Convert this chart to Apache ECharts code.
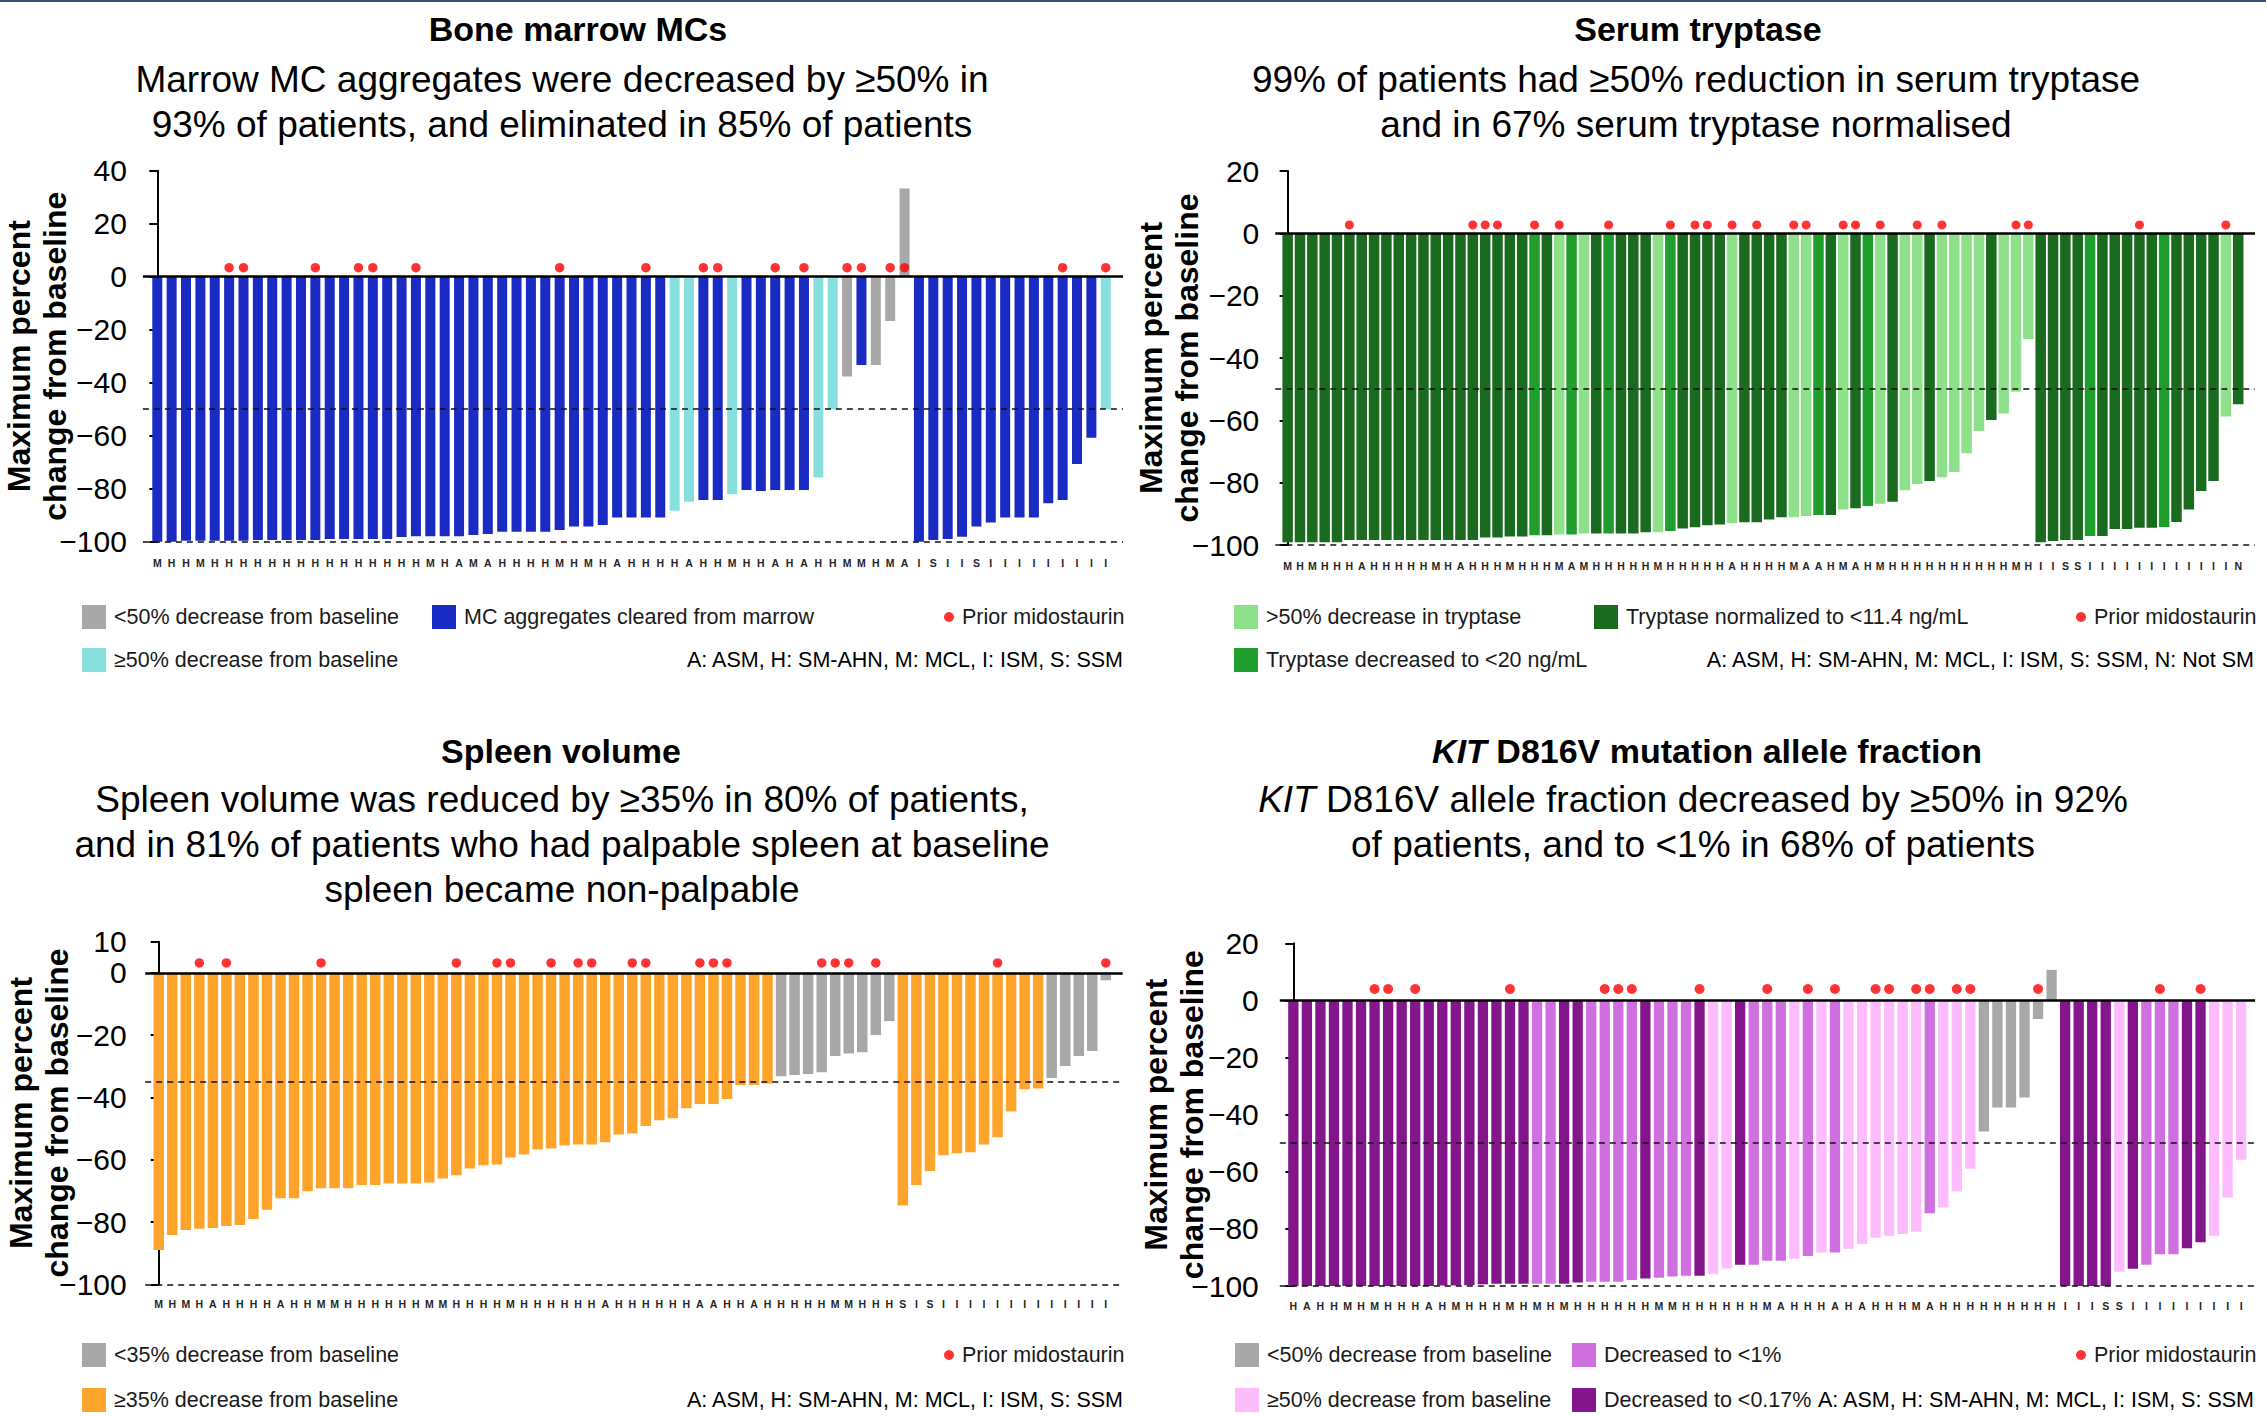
<!DOCTYPE html>
<html>
<head>
<meta charset="utf-8">
<script src="https://cdn.jsdelivr.net/npm/echarts@6/dist/echarts.min.js"></script>
<style>
  html, body { margin: 0; padding: 0; background: #fff; }
  #main { width: 2266px; height: 1417px; }
</style>
</head>
<body>
<div id="main"></div>
<script>
// Bone marrow MCs
var bmLabels = 'MHHMHHHHHHHHHHHHHHHMHAMAHHHHMHMHAHHHHAHHMHHAHAHHMMHMAISIISIIIIIIIII'.split('');
var bmValues = [-100, -100, -99.6, -99.6, -99.6, -99.6, -99.6, -99.4, -99.4, -99.4, -99.4, -99.4,
  -99, -99, -99, -99, -99, -98.2, -97.9, -97.9, -97.9, -97.9, -97.5, -97.1, -96.2, -96.2, -96.2, -96.2,
  -95.6, -94.3, -94.3, -93.7, -90.9, -90.9, -90.9, -90.9, -88.3, -84.9, -84.3, -84.3, -82.1, -80.5,
  -80.9, -80.5, -80.5, -80.5, -75.8, -50, -37.7, -33.3, -33.3, -16.7, 33.3, -101, -99.4, -99, -98.1,
  -94.3, -92.8, -90.9, -90.9, -90.9, -85.5, -84.3, -70.7, -60.8, -50];
var bmCyan = [36, 37, 40, 46, 47, 66];
var bmGray = [48, 50, 51, 52];
var bmPrior = [5, 6, 11, 14, 15, 18, 28, 34, 38, 39, 43, 45, 48, 49, 51, 52, 63, 66];

// Serum tryptase
var trLabels = ('MHMHHHAHHHHHMHAHHHMHHHMAMHHHHHMHHHHHAHHH' + 'HMAAHMAHMHHHHHHHHHHMHIISSIIIIIIIIIIIIN').split('');
var trValues = [-99.1, -99.1, -99.1, -99.1, -99.1, -98.4, -98.4, -98.4, -98.4, -98.4, -98.4, -98.4,
  -98.4, -98.4, -98.4, -98.4, -97.6, -97.6, -97.3, -97.3, -96.9, -96.9, -96.6, -96.6, -96.3, -96.3,
  -96.3, -96.3, -96.3, -95.9, -95.9, -95.5, -94.7, -94.3, -93.7, -93.4, -93.0, -92.7, -92.7, -91.8,
  -91.1, -91.1, -90.7, -90.4, -90.4, -88.6, -88.2, -87.5, -86.8, -86.1, -82.4, -80.4, -79.5, -78.3,
  -76.6, -70.6, -63.4, -59.9, -57.8, -50.8, -33.9, -99.1, -98.7, -98.4, -98.4, -97.1, -97.1, -94.9,
  -94.9, -94.5, -94.5, -94.2, -92.6, -88.6, -82.7, -79.5, -58.8, -54.8];
var trMedium = [20, 23, 26, 31, 43, 47, 65, 71];
var trLight = [22, 24, 30, 36, 41, 42, 45, 48, 50, 51, 53, 54, 55, 56, 58, 59, 60, 76];
var trPrior = [5, 15, 16, 17, 20, 22, 26, 31, 33, 34, 36, 38, 41, 42, 45, 46, 48, 51, 53, 59, 60, 69, 76];

// Spleen volume
var spLabels = ('MHMHAHHHHAHHMMHHHHHHMMHHHHMHHHHHHAHHH' + 'HHHAAHHAHHHHHMMHHHSISIIIIIIIIIIIII').split('');
var spValues = [-89.0, -84.2, -82.6, -82.2, -81.9, -81.3, -81.0, -79.0, -76.1, -72.4, -72.4, -70.1,
  -69.2, -69.2, -69.2, -68.1, -68.1, -67.6, -67.6, -67.6, -67.3, -66.0, -65.0, -62.8, -61.8, -61.5,
  -59.3, -58.3, -56.7, -56.4, -55.4, -55.1, -55.1, -54.4, -51.9, -51.6, -49.2, -47.3, -46.7, -43.5,
  -42.1, -42.1, -40.5, -36.0, -36.0, -35.5, -33.2, -32.8, -32.5, -31.9, -26.7, -25.9, -25.5, -20.0,
  -15.5, -74.7, -68.1, -63.6, -58.6, -57.9, -57.6, -55.1, -52.8, -44.5, -37.4, -37.1, -33.8, -29.9,
  -26.7, -25.1, -2.4];
var spGray = [46, 47, 48, 49, 50, 51, 52, 53, 54, 66, 67, 68, 69, 70];
var spPrior = [3, 5, 12, 22, 25, 26, 29, 31, 32, 35, 36, 40, 41, 42, 49, 50, 51, 53, 62, 70];

// KIT D816V allele fraction
var kitLabels = ('HAHHMHMHHHAHMHHHMHMHMHHHHHHMMHHHHHHM' + 'AHHHAHAHHHMAHHHHHHHHHIIISSIIIIIIIII').split('');
var kitValues = [-100, -100, -100, -100, -100, -100, -100, -100, -100, -100, -100, -99.8, -99.8,
  -99.7, -99.4, -99.2, -99.2, -99.2, -99.2, -99.2, -99.2, -98.8, -98.5, -98.5, -98.5, -97.9, -97.4,
  -97.1, -96.7, -96.4, -96.4, -95.7, -93.9, -92.6, -92.6, -91.2, -91.2, -90.5, -89.5, -88.3, -88.3,
  -87.0, -85.3, -83.1, -82.4, -81.8, -81.0, -74.5, -72.5, -66.9, -58.9, -45.9, -37.5, -37.5, -34.0,
  -6.5, 10.7, -100, -100, -100, -100, -95.0, -94.0, -92.6, -88.9, -88.9, -86.8, -84.7, -82.4, -69.0,
  -55.8];
var kitMedium = [18, 19, 22, 23, 24, 25, 27, 28, 29, 34, 35, 36, 38, 40, 47, 63, 64, 65];
var kitLight = [31, 32, 37, 39, 41, 42, 43, 44, 45, 46, 48, 49, 50, 61, 68, 69, 70];
var kitGray = [51, 52, 53, 54, 55, 56];
var kitPrior = [6, 7, 9, 16, 23, 24, 25, 30, 35, 38, 40, 43, 44, 46, 47, 49, 50, 55, 64, 67];

var FONT = '"Liberation Sans", Arial, Helvetica, sans-serif';
var GRAY = '#a8a8a8';
var RED = '#ff0000';

var panels = [
  {
    labels: bmLabels, values: bmValues, prior: bmPrior, refLine: -50,
    groups: [
      { name: '<50% decrease from baseline', color: GRAY, idx: bmGray },
      { name: '≥50% decrease from baseline', color: '#88e0de', idx: bmCyan },
      { name: 'MC aggregates cleared from marrow', color: '#1a2bc4', idx: null }
    ],
    grid: { left: 142.9, top: 170.7, width: 980.1, height: 371 },
    xMax: 67.2, yMax: 40, yOffset: 0, barWidth: 10, dotY: 3.4, dotSize: 9.5, labelMargin: 16
  },
  {
    labels: trLabels, values: trValues, prior: trPrior, refLine: -50,
    groups: [
      { name: '>50% decrease in tryptase', color: '#8ee08a', idx: trLight },
      { name: 'Tryptase decreased to <20 ng/mL', color: '#1f9e2d', idx: trMedium },
      { name: 'Tryptase normalized to <11.4 ng/mL', color: '#1a6b20', idx: null }
    ],
    grid: { left: 1275.3, top: 171, width: 979.7, height: 374 },
    xMax: 78.36, yMax: 20, yOffset: 0, barWidth: 10.5, dotY: 2.7, dotSize: 9, labelMargin: 15
  },
  {
    labels: spLabels, values: spValues, prior: spPrior, refLine: -35,
    groups: [
      { name: '<35% decrease from baseline', color: GRAY, idx: spGray },
      { name: '≥35% decrease from baseline', color: '#ffa42b', idx: null }
    ],
    grid: { left: 145.2, top: 941.7, width: 977.5, height: 342.6 },
    xMax: 71.25, yMax: 10, yOffset: 2.5, barWidth: 10.5, dotY: 3.2, dotSize: 9.5, labelMargin: 14
  },
  {
    labels: kitLabels, values: kitValues, prior: kitPrior, refLine: -50,
    groups: [
      { name: '<50% decrease from baseline', color: GRAY, idx: kitGray },
      { name: '≥50% decrease from baseline', color: '#fdbcfd', idx: kitLight },
      { name: 'Decreased to <1%', color: '#d070e0', idx: kitMedium },
      { name: 'Decreased to <0.17%', color: '#82168a', idx: null }
    ],
    grid: { left: 1279.8, top: 943.3, width: 975.3, height: 342.7 },
    xMax: 71.03, yMax: 20, yOffset: 5, barWidth: 10.3, dotY: 4, dotSize: 10, labelMargin: 14
  }
];

var grids = [], xAxes = [], yAxes = [], series = [];

panels.forEach(function (p, k) {
  grids.push(Object.assign({ outerBoundsMode: 'none', containLabel: false }, p.grid));

  xAxes.push({
    gridIndex: k, type: 'value', min: -1, max: p.xMax, interval: 1,
    axisLine: { show: false }, axisTick: { show: false }, splitLine: { show: false },
    axisLabel: {
      margin: p.labelMargin, fontSize: 10.5, fontWeight: 'bold', color: '#262626', fontFamily: FONT,
      formatter: function (v) {
        return (Math.round(v) === v && p.labels[v]) ? p.labels[v] : '';
      }
    }
  });

  yAxes.push({
    gridIndex: k, type: 'value', min: -100, max: p.yMax, interval: 20, offset: p.yOffset,
    name: 'Maximum percent\nchange from baseline', nameLocation: 'middle', nameGap: 70 - p.yOffset,
    nameMoveOverlap: false,
    nameTextStyle: { fontSize: 32, fontWeight: 'bold', color: '#000', lineHeight: 36, fontFamily: FONT },
    axisLine: { show: true, lineStyle: { color: '#000', width: 2 } },
    axisTick: { show: true, length: 8, lineStyle: { color: '#000', width: 2 } },
    splitLine: { show: false },
    axisLabel: {
      margin: 16, fontSize: 30, color: '#000', fontFamily: FONT,
      formatter: function (v) { return String(v).replace('-', '\u2212'); }
    }
  });

  // which colour group each bar belongs to
  var owner = p.values.map(function (v, i) {
    for (var g = 0; g < p.groups.length; g++) {
      if (p.groups[g].idx && p.groups[g].idx.indexOf(i) >= 0) return g;
    }
    return p.groups.length - 1;
  });

  p.groups.forEach(function (g, gi) {
    var data = [];
    p.values.forEach(function (v, i) { if (owner[i] === gi) data.push([i, v]); });
    series.push({
      type: 'bar', name: g.name, xAxisIndex: k, yAxisIndex: k, data: data,
      barWidth: p.barWidth, barGap: '-100%',
      itemStyle: { color: g.color }, emphasis: { disabled: true }
    });
  });

  series.push({
    type: 'scatter', name: 'Prior midostaurin', xAxisIndex: k, yAxisIndex: k,
    data: p.prior.map(function (i) { return [i, p.dotY]; }),
    symbolSize: p.dotSize, itemStyle: { color: RED }, emphasis: { disabled: true }, z: 5,
    markLine: {
      silent: true, symbol: 'none', label: { show: false },
      data: [
        { yAxis: 0, lineStyle: { type: 'solid', width: 2.5, color: '#000' } },
        { yAxis: p.refLine, lineStyle: { type: [6, 5], width: 1.6, color: '#111' } },
        { yAxis: -100, lineStyle: { type: [6, 5], width: 1.6, color: '#111' } }
      ]
    }
  });
});

function legendBox(left, top, items, gap, size) {
  return {
    left: left, top: top, orient: 'vertical', padding: 0, itemGap: gap || 19,
    itemWidth: size || 24, itemHeight: size || 24, selectedMode: false,
    textStyle: { fontSize: 21.5, color: '#1a1a1a', fontFamily: FONT, padding: [0, 0, 0, 3] },
    data: items.map(function (it) {
      return { name: it[0], icon: it[2] || 'rect', itemStyle: { color: it[1] } };
    })
  };
}

var legends = [
  legendBox(82, 605, [['<50% decrease from baseline', GRAY], ['≥50% decrease from baseline', '#88e0de']]),
  legendBox(432, 605, [['MC aggregates cleared from marrow', '#1a2bc4']]),
  legendBox(944, 606, [['Prior midostaurin', RED, 'circle']], 19, 10),

  legendBox(1234, 605, [['>50% decrease in tryptase', '#8ee08a'], ['Tryptase decreased to <20 ng/mL', '#1f9e2d']]),
  legendBox(1594, 605, [['Tryptase normalized to <11.4 ng/mL', '#1a6b20']]),
  legendBox(2076, 606, [['Prior midostaurin', RED, 'circle']], 19, 10),

  legendBox(82, 1343, [['<35% decrease from baseline', GRAY], ['≥35% decrease from baseline', '#ffa42b']], 21),
  legendBox(944, 1344, [['Prior midostaurin', RED, 'circle']], 19, 10),

  legendBox(1235, 1343, [['<50% decrease from baseline', GRAY], ['≥50% decrease from baseline', '#fdbcfd']], 21),
  legendBox(1572, 1343, [['Decreased to <1%', '#d070e0'], ['Decreased to <0.17%', '#82168a']], 21),
  legendBox(2076, 1344, [['Prior midostaurin', RED, 'circle']], 19, 10)
];

function textBlock(text, x, y, size, weight, lh, align, rich) {
  return {
    text: text, left: x, top: y, textAlign: align || 'center', padding: 0,
    textStyle: {
      fontSize: size, fontWeight: weight, lineHeight: lh, color: '#000', fontFamily: FONT,
      rich: rich
    }
  };
}

var italicRich = function (size, weight, lh) {
  return { i: { fontStyle: 'italic', fontWeight: weight, fontSize: size, lineHeight: lh, fontFamily: FONT, color: '#000' } };
};

var titles = [
  textBlock('Bone marrow MCs', 578, 9, 34, 'bold', 40),
  textBlock('Marrow MC aggregates were decreased by ≥50% in\n93% of patients, and eliminated in 85% of patients', 562, 57, 37, 'normal', 45),
  textBlock('Serum tryptase', 1698, 9, 34, 'bold', 40),
  textBlock('99% of patients had ≥50% reduction in serum tryptase\nand in 67% serum tryptase normalised', 1696, 57, 37, 'normal', 45),
  textBlock('Spleen volume', 561, 731, 34, 'bold', 40),
  textBlock('Spleen volume was reduced by ≥35% in 80% of patients,\nand in 81% of patients who had palpable spleen at baseline\nspleen became non-palpable', 562, 776.5, 37, 'normal', 45),
  textBlock('{i|KIT} D816V mutation allele fraction', 1707, 731, 34, 'bold', 40, 'center', italicRich(34, 'bold', 40)),
  textBlock('{i|KIT} D816V allele fraction decreased by ≥50% in 92%\nof patients, and to <1% in 68% of patients', 1693, 776.5, 37, 'normal', 45, 'center', italicRich(37, 'normal', 45)),

  textBlock('A: ASM, H: SM-AHN, M: MCL, I: ISM, S: SSM', 1123, 649, 21.5, 'normal', 22, 'right'),
  textBlock('A: ASM, H: SM-AHN, M: MCL, I: ISM, S: SSM, N: Not SM', 2254, 649, 21.5, 'normal', 22, 'right'),
  textBlock('A: ASM, H: SM-AHN, M: MCL, I: ISM, S: SSM', 1123, 1389, 21.5, 'normal', 22, 'right'),
  textBlock('A: ASM, H: SM-AHN, M: MCL, I: ISM, S: SSM', 2254, 1389, 21.5, 'normal', 22, 'right')
];

var option = {
  backgroundColor: '#fff',
  animation: false,
  title: titles,
  legend: legends,
  grid: grids,
  xAxis: xAxes,
  yAxis: yAxes,
  series: series,
  graphic: [{ type: 'rect', shape: { x: 0, y: 0, width: 2266, height: 2 }, style: { fill: '#34506e' } }]
};

var chart = echarts.init(document.getElementById('main'), null, { renderer: 'svg' });
chart.setOption(option);
</script>
</body>
</html>
